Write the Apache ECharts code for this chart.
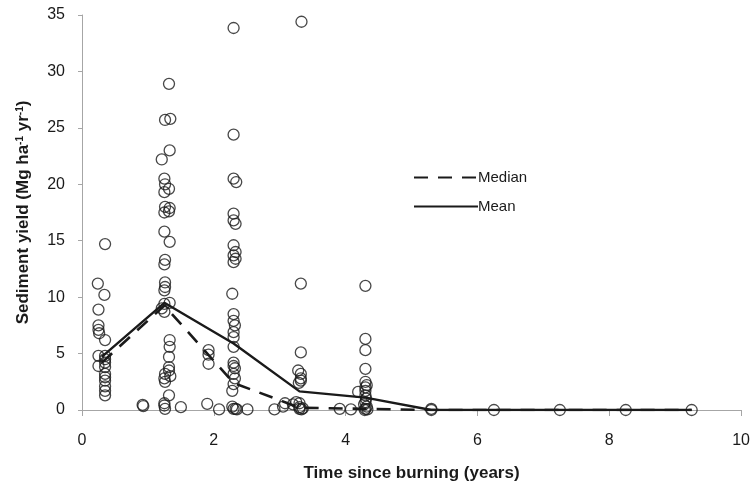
<!DOCTYPE html>
<html>
<head>
<meta charset="utf-8">
<script src="https://cdn.jsdelivr.net/npm/echarts@6/dist/echarts.min.js"></script>
<style>
html,body{margin:0;padding:0;background:#fff;}
#c{width:753px;height:489px;}
</style>
</head>
<body>
<div id="c"></div>
<script>
// ---- data ----
var xTicks = [0, 2, 4, 6, 8, 10];
var yTicks = [0, 5, 10, 15, 20, 25, 30, 35];

var lineYears = [0.3, 1.25, 2.3, 3.3, 4.3, 5.3, 6.25, 7.25, 8.25, 9.25];
var meanValues = [4.7, 9.5, 5.9, 1.65, 1.1, 0, 0, 0, 0, 0];
var medianValues = [4.2, 9.25, 2.4, 0.2, 0.1, 0, 0, 0, 0, 0];

// scattered observations [years, yield]
var obsYear0 = [
  [0.35,14.7],[0.24,11.2],[0.34,10.2],[0.25,8.9],[0.25,7.5],[0.25,7.1],[0.26,6.8],
  [0.35,6.2],[0.25,4.8],[0.35,4.8],[0.35,4.5],[0.35,4.2],[0.35,3.8],[0.25,3.9],
  [0.35,3.2],[0.35,2.9],[0.35,2.6],[0.35,2.1],[0.35,1.7],[0.35,1.3]
];
var obsYear1 = [
  [0.92,0.45],[0.93,0.35],
  [1.32,28.9],[1.26,25.7],[1.34,25.8],[1.33,23.0],[1.21,22.2],[1.25,20.5],[1.26,20.0],
  [1.32,19.6],[1.25,19.3],[1.26,18.0],[1.33,17.9],[1.25,17.5],[1.32,17.6],[1.25,15.8],
  [1.33,14.9],[1.26,13.3],[1.25,12.9],[1.26,11.3],[1.26,10.9],[1.25,10.6],[1.25,9.4],
  [1.33,9.5],[1.21,9.0],[1.25,8.7],[1.33,6.2],[1.33,5.6],[1.32,4.7],[1.32,3.8],
  [1.32,3.5],[1.26,3.2],[1.25,2.8],[1.26,2.5],[1.34,3.0],[1.32,1.3],[1.25,0.4],
  [1.26,0.1],[1.25,0.6],[1.5,0.25],
  [1.92,5.3],[1.92,4.9],[1.92,4.1],[1.9,0.55]
];
var obsYear2 = [
  [2.08,0.05],
  [2.3,33.85],[2.3,24.4],[2.3,20.5],[2.34,20.2],[2.3,17.4],[2.3,16.8],[2.33,16.5],
  [2.3,14.6],[2.33,14.0],[2.3,13.7],[2.33,13.4],[2.3,13.1],[2.28,10.3],[2.3,8.5],
  [2.3,7.9],[2.32,7.5],[2.3,6.9],[2.3,6.45],[2.3,5.6],[2.3,4.2],[2.3,3.9],[2.32,3.7],
  [2.3,3.2],[2.32,2.8],[2.3,2.3],[2.28,1.7],[2.28,0.3],[2.3,0.1],[2.33,0.1],[2.35,0.05],
  [2.51,0.05]
];
var obsYear3 = [
  [2.92,0.05],[3.05,0.3],[3.08,0.6],[3.2,0.5],[3.25,0.7],[3.3,0.6],[3.3,0.25],[3.3,0.1],
  [3.33,0.05],[3.35,0.15],
  [3.33,34.4],[3.32,11.2],[3.32,5.1],[3.28,3.5],[3.32,3.2],[3.32,2.8],[3.32,2.6],[3.29,2.4],
  [3.91,0.1],[4.08,0.05]
];
var obsYear4 = [
  [4.3,11.0],[4.3,6.3],[4.3,5.3],[4.3,3.65],[4.3,2.5],[4.32,2.2],[4.3,2.0],[4.3,1.7],
  [4.19,1.6],[4.3,1.3],[4.31,1.0],[4.3,0.7],[4.28,0.5],[4.32,0.3],[4.3,0.1],[4.33,0.05],[4.29,0]
];
var obsLater = [
  [5.3,0.1],[5.3,0],[6.25,0],[7.25,0],[8.25,0],[9.25,0]
];

// ---- chart ----
var ink = '#1a1a1a';
var axisGray = '#a6a6a6';
var allObs = [].concat(obsYear0, obsYear1, obsYear2, obsYear3, obsYear4, obsLater);
function pairs(xs, ys){ return xs.map(function(x,i){ return [x, ys[i]]; }); }

var chart = echarts.init(document.getElementById('c'), null, {renderer:'canvas'});
chart.setOption({
  animation: false,
  backgroundColor: '#ffffff',
  grid: {left: 82, right: 8, top: 15, bottom: 79, containLabel: false},
  legend: {
    orient: 'vertical',
    left: 408, top: 165,
    itemWidth: 64, itemHeight: 14, itemGap: 14,
    data: ['Median', 'Mean'],
    itemStyle: {opacity: 0},
    textStyle: {fontFamily: 'Liberation Sans, Arial, sans-serif', fontSize: 15, color: ink, padding: [0,0,0,-5]}
  },
  xAxis: {
    type: 'value', min: xTicks[0], max: xTicks[xTicks.length-1], interval: 2,
    name: 'Time since burning (years)', nameLocation: 'middle', nameGap: 55,
    nameTextStyle: {fontFamily: 'Liberation Sans, Arial, sans-serif', fontSize: 17, fontWeight: 'bold', color: ink},
    axisLine: {show: true, lineStyle: {color: axisGray, width: 1}},
    axisTick: {show: true, inside: false, length: 6, lineStyle: {color: axisGray}},
    axisLabel: {margin: 23, fontFamily: 'Liberation Sans, Arial, sans-serif', fontSize: 16, color: ink},
    splitLine: {show: false}
  },
  yAxis: {
    type: 'value', min: yTicks[0], max: yTicks[yTicks.length-1], interval: 5,
    name: 'Sediment yield (Mg ha{sup|-1} yr{sup|-1})', nameLocation: 'middle', nameGap: 50, nameRotate: 90,
    nameTextStyle: {
      fontFamily: 'Liberation Sans, Arial, sans-serif', fontSize: 17, fontWeight: 'bold', color: ink,
      rich: {sup: {fontFamily: 'Liberation Sans, Arial, sans-serif', fontSize: 10, fontWeight: 'bold', color: ink, verticalAlign: 'top', lineHeight: 10, padding: [0,0,8,0]}}
    },
    axisLine: {show: true, lineStyle: {color: axisGray, width: 1}},
    axisTick: {show: true, inside: false, length: 4, lineStyle: {color: axisGray}},
    axisLabel: {margin: 17, fontFamily: 'Liberation Sans, Arial, sans-serif', fontSize: 16, color: ink},
    splitLine: {show: false}
  },
  series: [
    {
      name: 'Observations', type: 'scatter', data: allObs,
      symbol: 'circle', symbolSize: 11,
      itemStyle: {color: 'rgba(255,255,255,0)', borderColor: ink, borderWidth: 1.3},
      z: 3
    },
    {
      name: 'Median', type: 'line', data: pairs(lineYears, medianValues),
      symbol: 'none', lineStyle: {color: ink, width: 2.6, type: [14, 10]},
      itemStyle: {color: ink}, z: 2
    },
    {
      name: 'Mean', type: 'line', data: pairs(lineYears, meanValues),
      symbol: 'none', lineStyle: {color: ink, width: 2.4, type: 'solid'},
      itemStyle: {color: ink}, z: 2
    }
  ]
});
</script>
</body>
</html>
